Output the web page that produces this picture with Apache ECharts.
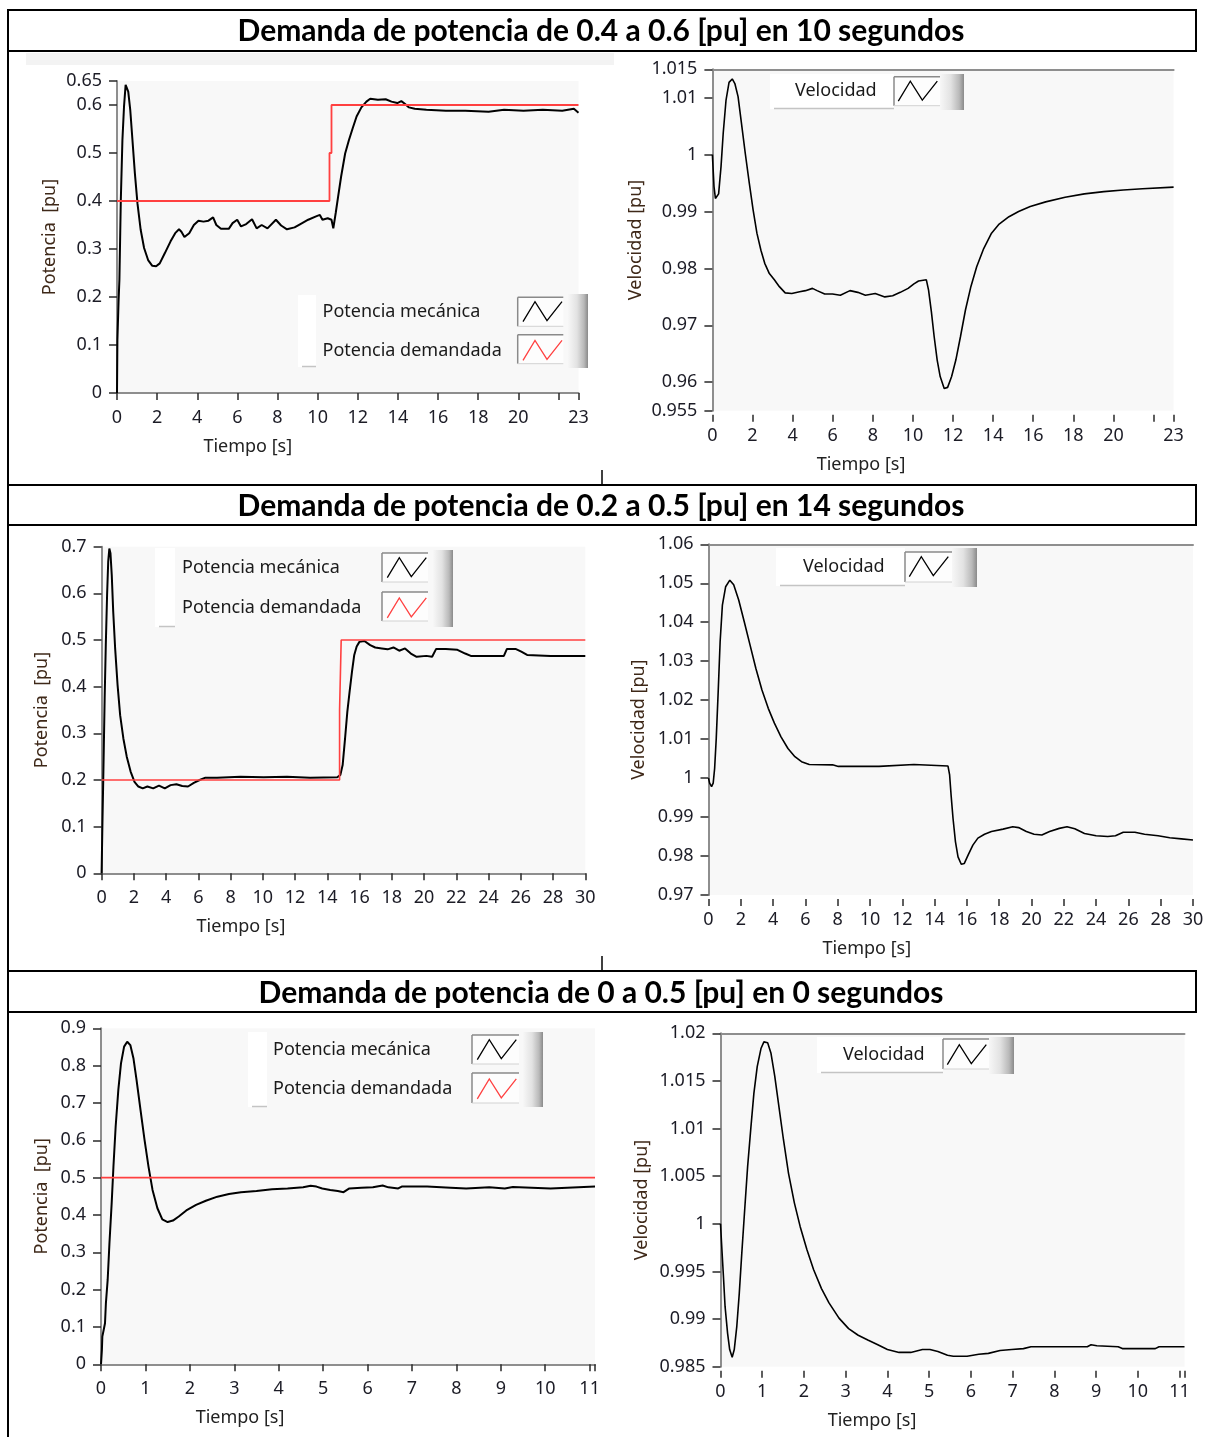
<!DOCTYPE html>
<html><head><meta charset="utf-8">
<script src="https://cdn.jsdelivr.net/npm/echarts@6/dist/echarts.min.js"></script>
<style>html,body{margin:0;padding:0;background:#fff}#c{width:1207px;height:1437px}</style>
</head><body><div id="c"></div><script>
// ---------- texts ----------
const titles = ['Demanda de potencia de 0.4 a 0.6 [pu] en 10 segundos','Demanda de potencia de 0.2 a 0.5 [pu] en 14 segundos','Demanda de potencia de 0 a 0.5 [pu] en 0 segundos'];
const xAxisName = 'Tiempo [s]';
const powerAxisName = 'Potencia  [pu]';
const speedAxisName = 'Velocidad [pu]';
const mechName = 'Potencia mecánica';
const demName = 'Potencia demandada';
const speedName = 'Velocidad';

// ---------- tick values ----------
const p1XTicks = [0,2,4,6,8,10,12,14,16,18,20,22,23];
const p1XLabels = [0,2,4,6,8,10,12,14,16,18,20,23];
const p1YTicks = [0,0.1,0.2,0.3,0.4,0.5,0.6,0.65];
const p2YTicks = [0.955,0.96,0.97,0.98,0.99,1,1.01,1.015];
const p3XTicks = [0,2,4,6,8,10,12,14,16,18,20,22,24,26,28,30];
const p3YTicks = [0,0.1,0.2,0.3,0.4,0.5,0.6,0.7];
const p4YTicks = [0.97,0.98,0.99,1,1.01,1.02,1.03,1.04,1.05,1.06];
const p5XTicks = [0,1,2,3,4,5,6,7,8,9,10,11,11.12];
const p5XLabels = [0,1,2,3,4,5,6,7,8,9,10,11];
const p5YTicks = [0,0.1,0.2,0.3,0.4,0.5,0.6,0.7,0.8,0.9];
const p6YTicks = [0.985,0.99,0.995,1,1.005,1.01,1.015,1.02];

// ---------- panel 1: 0.4 -> 0.6 pu, power ----------
const p1Time = [0,0.02,0.08,0.12,0.19,0.27,0.35,0.43,0.48,0.56,0.66,0.77,0.89,1.02,1.18,1.35,1.55,1.76,1.95,2.13,2.38,2.67,2.9,3.09,3.21,3.36,3.6,3.83,4.06,4.31,4.56,4.79,4.95,5.18,5.57,5.76,5.99,6.18,6.44,6.73,6.96,7.21,7.5,7.92,8.18,8.47,8.85,9.14,9.53,9.92,10.11,10.24,10.5,10.69,10.78,10.9,11.02,11.17,11.37,11.56,11.75,11.94,12.18,12.43,12.62,13.0,13.39,13.68,13.97,14.17,14.36,14.55,14.84,15.42,16.39,17.36,18.52,19.29,20.26,21.22,22.19,22.77,23];
const p1Mech = [0,0.111,0.194,0.236,0.402,0.527,0.597,0.642,0.645,0.628,0.59,0.527,0.458,0.395,0.34,0.302,0.277,0.265,0.264,0.27,0.291,0.316,0.333,0.341,0.336,0.325,0.333,0.35,0.359,0.357,0.359,0.366,0.35,0.342,0.342,0.354,0.361,0.347,0.352,0.362,0.343,0.35,0.343,0.361,0.349,0.341,0.345,0.352,0.361,0.368,0.371,0.361,0.364,0.361,0.343,0.375,0.409,0.451,0.499,0.527,0.552,0.576,0.595,0.607,0.613,0.611,0.612,0.607,0.604,0.608,0.602,0.595,0.592,0.59,0.588,0.588,0.586,0.59,0.588,0.59,0.588,0.592,0.584];
const p1DemTime = [0,10.59,10.59,10.69,10.69,23];
const p1Dem = [0.4,0.4,0.5,0.5,0.6,0.6];

// ---------- panel 2: 0.4 -> 0.6 pu, speed ----------
const p2Time = [0,0.08,0.15,0.23,0.31,0.43,0.54,0.68,0.83,0.99,1.12,1.28,1.45,1.64,1.84,2.03,2.22,2.42,2.61,2.84,3.09,3.34,3.63,3.96,4.35,4.64,4.99,5.22,5.6,5.99,6.38,6.86,7.25,7.63,8.12,8.6,8.99,9.37,9.76,10.05,10.28,10.67,10.78,10.92,11.06,11.21,11.36,11.56,11.73,11.93,12.14,12.37,12.62,12.89,13.18,13.53,13.92,14.3,14.79,15.27,15.85,16.62,17.59,18.55,19.52,20.49,21.45,23];
const p2Speed = [1.0,0.9944,0.9923,0.9922,0.9931,0.9979,1.0038,1.0096,1.0127,1.0133,1.0125,1.0102,1.0055,1.0002,0.995,0.9903,0.9862,0.9832,0.9809,0.9791,0.978,0.9768,0.9757,0.9756,0.9759,0.9761,0.9765,0.9761,0.9755,0.9755,0.9753,0.9761,0.9758,0.9753,0.9756,0.975,0.9752,0.9758,0.9765,0.9773,0.9778,0.978,0.9762,0.9724,0.968,0.9639,0.961,0.9589,0.9591,0.961,0.9639,0.968,0.9727,0.9768,0.9803,0.9835,0.9862,0.9878,0.9891,0.99,0.9909,0.9917,0.9925,0.9931,0.9935,0.9938,0.994,0.9943];

// ---------- panel 3: 0.2 -> 0.5 pu, power ----------
const p3Time = [0,0.05,0.1,0.14,0.19,0.26,0.34,0.41,0.48,0.55,0.63,0.72,0.84,0.99,1.15,1.35,1.56,1.8,2.04,2.28,2.55,2.84,3.2,3.56,3.92,4.28,4.64,5.0,5.36,5.72,6.08,6.44,7.16,8.61,10.05,11.5,12.93,14.62,14.81,14.95,15.1,15.24,15.38,15.53,15.67,15.82,15.99,16.3,16.66,16.97,17.38,17.74,18.1,18.46,18.82,19.18,19.54,20.14,20.5,20.75,21.35,22.07,22.55,22.9,23.99,24.95,25.14,25.67,26.03,26.39,27.84,30];
const p3Mech = [0,0.104,0.196,0.275,0.375,0.489,0.596,0.668,0.696,0.686,0.639,0.561,0.482,0.404,0.339,0.289,0.25,0.218,0.196,0.186,0.182,0.186,0.182,0.188,0.182,0.189,0.191,0.187,0.186,0.194,0.2,0.205,0.205,0.207,0.206,0.207,0.205,0.206,0.211,0.232,0.289,0.346,0.389,0.432,0.468,0.486,0.496,0.498,0.489,0.484,0.482,0.48,0.484,0.477,0.482,0.471,0.464,0.466,0.464,0.481,0.481,0.479,0.471,0.466,0.466,0.466,0.481,0.481,0.475,0.468,0.466,0.466];
const p3DemTime = [0,14.76,14.76,14.86,14.86,30];
const p3Dem = [0.2,0.2,0.35,0.35,0.5,0.5];

// ---------- panel 4: 0.2 -> 0.5 pu, speed ----------
const p4Time = [0,0.07,0.19,0.29,0.38,0.48,0.6,0.72,0.86,1.06,1.32,1.56,1.87,2.21,2.57,2.93,3.31,3.7,4.08,4.49,4.92,5.35,5.76,6.24,7.68,8.04,10.56,10.61,12.72,12.77,14.83,14.93,15.02,15.14,15.29,15.45,15.65,15.84,16.08,16.37,16.68,17.09,17.52,18.24,18.84,19.2,19.68,20.16,20.64,21.12,21.72,22.2,22.68,23.28,24.0,24.72,25.2,25.68,26.4,27.0,27.84,28.56,29.28,30];
const p4Speed = [1.0,0.9987,0.9978,0.9987,1.0025,1.0102,1.0222,1.035,1.0444,1.0491,1.0508,1.0496,1.0457,1.0402,1.0342,1.0282,1.0226,1.0179,1.0141,1.0106,1.0076,1.0055,1.0042,1.0035,1.0034,1.003,1.003,1.0035,1.0035,1.0031,1.0031,1.0008,0.9957,0.9897,0.9837,0.9798,0.9779,0.9781,0.9803,0.9828,0.9846,0.9856,0.9863,0.9869,0.9875,0.9873,0.9863,0.9856,0.9854,0.9863,0.9871,0.9875,0.987,0.9858,0.9852,0.985,0.9852,0.9861,0.9861,0.9856,0.9852,0.9847,0.9844,0.9841];

// ---------- panel 5: 0 -> 0.5 pu, power ----------
const p5Time = [0,0.02,0.03,0.06,0.09,0.11,0.15,0.19,0.24,0.28,0.33,0.39,0.45,0.52,0.59,0.66,0.73,0.8,0.89,0.98,1.07,1.16,1.27,1.38,1.5,1.62,1.75,1.92,2.14,2.36,2.62,2.88,3.15,3.5,3.85,4.2,4.55,4.72,4.85,4.98,5.16,5.33,5.46,5.59,5.86,6.12,6.34,6.47,6.69,6.77,7.34,7.87,8.22,8.74,9.09,9.27,10.12,10.16,11.12];
const p5Mech = [0,0.038,0.074,0.092,0.11,0.163,0.226,0.324,0.431,0.529,0.637,0.735,0.806,0.851,0.864,0.855,0.82,0.762,0.681,0.601,0.529,0.467,0.418,0.388,0.381,0.385,0.396,0.412,0.427,0.438,0.449,0.456,0.461,0.464,0.469,0.471,0.474,0.478,0.476,0.471,0.467,0.464,0.461,0.471,0.473,0.474,0.479,0.474,0.471,0.476,0.476,0.473,0.471,0.474,0.471,0.475,0.471,0.476,0.476];
const p5DemTime = [0,11.12];
const p5Dem = [0.5,0.5];

// ---------- panel 6: 0 -> 0.5 pu, speed ----------
const p6Time = [0,0.03,0.07,0.11,0.17,0.22,0.28,0.33,0.39,0.45,0.51,0.58,0.65,0.73,0.8,0.88,0.97,1.04,1.13,1.21,1.3,1.4,1.51,1.63,1.77,1.91,2.07,2.23,2.42,2.6,2.84,3.07,3.3,3.53,3.77,4.0,4.28,4.56,4.84,5.02,5.21,5.44,5.58,5.91,6.19,6.42,6.7,6.98,7.26,7.44,8.28,8.79,8.88,9.02,9.53,9.63,10.42,10.51,11.12];
const p6Speed = [1.0,0.9976,0.9945,0.9913,0.9885,0.9868,0.986,0.9868,0.9892,0.9927,0.9969,1.0015,1.006,1.0102,1.0137,1.0165,1.0184,1.0191,1.019,1.0179,1.0155,1.0123,1.0088,1.0053,1.0022,0.9997,0.9973,0.9952,0.9932,0.9917,0.9901,0.989,0.9883,0.9878,0.9873,0.9868,0.9865,0.9865,0.9868,0.9868,0.9866,0.9862,0.9861,0.9861,0.9863,0.9864,0.9867,0.9868,0.9869,0.9871,0.9871,0.9871,0.9873,0.9872,0.9871,0.9869,0.9869,0.9871,0.9871];

// ---------- styling / layout ----------
const FONT = '"Noto Sans", sans-serif';
const TITLE_FONT = 'bold 30px Lato, "Noto Sans", sans-serif';
const BLACK = '#000000';
const RED = '#ff4040';
const PLOT_BG = '#f8f8f8';
const FRAME = '#8e8e8e';
const LABEL_COLOR = '#1c1c26';
const YNAME_COLOR = '#3e2818';
const ZIGZAG = 'path://M0,20L12,0L24,19L39,0';

function zip(a, b) { const n = Math.min(a.length, b.length); const r = []; for (let i = 0; i < n; i++) r.push([a[i], b[i]]); return r; }
function fmt(v) { return String(+(+v).toFixed(4)); }

const panels = [
  {grid:[117,81,461.5,312], xMax:23, yMin:0, yMax:0.65, xTicks:p1XTicks, xLabels:p1XLabels, yTicks:p1YTicks, yName:powerAxisName, xNamePad:200, yNameGap:54,
   lines:[{name:mechName, d:zip(p1Time,p1Mech), c:BLACK, w:2},{name:demName, d:zip(p1DemTime,p1Dem), c:RED, w:1.8}],
   legend:{left:322.5, top:301, W:195.5, gap:17.5}},
  {grid:[712.4,69.3,461.2,341.4], xMax:23, yMin:0.955, yMax:1.015, xTicks:p1XTicks, xLabels:p1XLabels, yTicks:p2YTicks, yName:speedAxisName, xNamePad:164, yNameGap:64,
   lines:[{name:speedName, d:zip(p2Time,p2Speed), c:BLACK, w:1.6}],
   legend:{left:795, top:80.5, W:98.3, gap:10}},
  {grid:[101.6,546.7,483.7,326.6], xMax:30, yMin:0, yMax:0.7, xTicks:p3XTicks, xLabels:p3XTicks, yTicks:p3YTicks, yName:powerAxisName, xNamePad:205, yNameGap:47,
   lines:[{name:mechName, d:zip(p3Time,p3Mech), c:BLACK, w:2},{name:demName, d:zip(p3DemTime,p3Dem), c:RED, w:1.6}],
   legend:{left:182, top:557, W:200.3, gap:19}},
  {grid:[708.5,544.3,484.5,350.7], xMax:30, yMin:0.97, yMax:1.06, xTicks:p3XTicks, xLabels:p3XTicks, yTicks:p4YTicks, yName:speedAxisName, xNamePad:168, yNameGap:57,
   lines:[{name:speedName, d:zip(p4Time,p4Speed), c:BLACK, w:1.6}],
   legend:{left:803, top:556, W:101.3, gap:10}},
  {grid:[101,1028.3,494,336], xMax:11.12, yMin:0, yMax:0.9, xTicks:p5XTicks, xLabels:p5XLabels, yTicks:p5YTicks, yName:powerAxisName, xNamePad:216, yNameGap:46,
   lines:[{name:mechName, d:zip(p5Time,p5Mech), c:BLACK, w:2},{name:demName, d:zip(p5DemTime,p5Dem), c:RED, w:1.6}],
   legend:{left:273, top:1039, W:199.3, gap:18}},
  {grid:[720.5,1033.3,464,333.4], xMax:11.12, yMin:0.985, yMax:1.02, xTicks:p5XTicks, xLabels:p5XLabels, yTicks:p6YTicks, yName:speedAxisName, xNamePad:161, yNameGap:66,
   lines:[{name:speedName, d:zip(p6Time,p6Speed), c:BLACK, w:1.6}],
   legend:{left:843, top:1044, W:99.3, gap:10}}
];

const grid = [], xAxis = [], yAxis = [], series = [], legend = [];
panels.forEach((p, i) => {
  grid.push({left:p.grid[0], top:p.grid[1], width:p.grid[2], height:p.grid[3], show:true, backgroundColor:PLOT_BG, borderWidth:0, containLabel:false});
  const xi = xAxis.length, yi = yAxis.length;
  xAxis.push({gridIndex:i, type:'value', min:0, max:p.xMax, position:'bottom', offset:4,
    axisLine:{show:false}, splitLine:{show:false},
    axisTick:{show:true, length:7, customValues:p.xTicks, lineStyle:{color:'#2a2a2a', width:1.5}},
    axisLabel:{show:true, customValues:p.xLabels, formatter:fmt, margin:12, fontFamily:FONT, fontSize:18, color:LABEL_COLOR},
    name:xAxisName, nameLocation:'middle', nameGap:41,
    nameTextStyle:{fontFamily:FONT, fontSize:18, color:'#222', padding:[0,p.xNamePad,0,0]}});
  xAxis.push({gridIndex:i, type:'value', min:0, max:p.xMax, position:'top',
    axisLine:{show:true, lineStyle:{color:FRAME, width:2}}, axisTick:{show:false}, axisLabel:{show:false}, splitLine:{show:false}});
  yAxis.push({gridIndex:i, type:'value', min:p.yMin, max:p.yMax, position:'left', offset:4,
    axisLine:{show:false}, splitLine:{show:false},
    axisTick:{show:true, length:8, customValues:p.yTicks, lineStyle:{color:'#2a2a2a', width:1.5}},
    axisLabel:{show:true, customValues:p.yTicks, formatter:fmt, margin:11, fontFamily:FONT, fontSize:18, color:LABEL_COLOR},
    name:p.yName, nameLocation:'middle', nameGap:p.yNameGap, nameRotate:90,
    nameTextStyle:{fontFamily:FONT, fontSize:18, color:YNAME_COLOR}});
  yAxis.push({gridIndex:i, type:'value', min:p.yMin, max:p.yMax, position:'left',
    axisLine:{show:true, lineStyle:{color:FRAME, width:2}}, axisTick:{show:false}, axisLabel:{show:false}, splitLine:{show:false}});
  p.lines.forEach(l => {
    series.push({type:'line', name:l.name, xAxisIndex:xi, yAxisIndex:yi, data:l.d, symbol:'none', showSymbol:false,
      lineStyle:{color:l.c, width:l.w}, itemStyle:{color:l.c}, z:3, animation:false});
  });
  legend.push({show:true, orient:'vertical', align:'right', left:p.legend.left, top:p.legend.top, padding:0,
    itemWidth:39, itemHeight:20, itemGap:p.legend.gap, icon:ZIGZAG, selectedMode:false, z:20, zlevel:1,
    data:p.lines.map(l => ({name:l.name, icon:ZIGZAG, itemStyle:{color:'rgba(0,0,0,0)', borderColor:l.c, borderWidth:1.3}})),
    formatter:'{a|{name}}',
    textStyle:{rich:{a:{width:p.legend.W, align:'left', fontFamily:FONT, fontSize:18, color:'#1a1a1a', lineHeight:20, height:20}}}});
});

// ---------- decorations (table borders, titles, legend frames) ----------
const G = [];
function rect(x,y,w,h,style,z){G.push({type:'rect', shape:{x:x,y:y,width:w,height:h}, style:style, z:z||5, silent:true});}
function line(x1,y1,x2,y2,stroke,lw,z){G.push({type:'line', shape:{x1:x1,y1:y1,x2:x2,y2:y2}, style:{stroke:stroke,lineWidth:lw}, z:z||5, silent:true});}
function bevel(x,y,w,h){rect(x,y,w,h,{fill:{type:'linear',x:0,y:0,x2:1,y2:0,colorStops:[{offset:0,color:'#f7f7f7'},{offset:0.45,color:'#e2e2e2'},{offset:0.8,color:'#b9b9b9'},{offset:1,color:'#8a8a8a'}]}},6);}
function frame(x,y,w,h){rect(x,y,w,h,{fill:'#fdfdfd'},6); line(x,y,x+w,y,'#8a8a8a',1.5,7); line(x,y,x,y+h,'#8a8a8a',1.5,7); line(x,y+h,x+w,y+h,'#d2d2d2',1,7);}
function whiteStrip(x,y,w,h){rect(x,y,w,h,{fill:'#ffffff'},6); line(x+4,y+h-0.5,x+w,y+h-0.5,'#c4c4c4',1.5,7);}

// table
line(8,9,8,1437,'#000',2,8);
[[10,41],[485,40],[971,41]].forEach(r => rect(8,r[0],1188,r[1],{fill:'none', stroke:'#000', lineWidth:2},8));
line(602,470,602,485,'#000',1.5,8);
line(602,956,602,971,'#000',1.5,8);
rect(26,53,588,12,{fill:'#f3f3f3'},1);
[[31.5,0],[506.5,1],[993,2]].forEach(t => G.push({type:'text', z:9, silent:true,
  style:{text:titles[t[1]], x:601, y:t[0], font:TITLE_FONT, textAlign:'center', textVerticalAlign:'middle', fill:'#000'}}));

// power legends
whiteStrip(298,295,18,72); frame(517.7,297.3,45.6,29); frame(517.7,334.7,45.6,29); bevel(568,294,20,74);
whiteStrip(155,548,20,79); frame(382,553,46,29); frame(382,592,46,29); bevel(433,550,20,77);
whiteStrip(248,1032,19,75); frame(472,1035,47,29); frame(472,1073,47,30); bevel(523,1032,20,75);
// speed legends
whiteStrip(770,74,124,35); frame(894,76.7,46,29); bevel(940,74,24,36);
whiteStrip(776,548,129,38); frame(905,552,47,30); bevel(952,548,25,39);
whiteStrip(817,1037,126,36); frame(943,1039,46,30); bevel(989,1037,25,37);

const chart = echarts.init(document.getElementById('c'), null, {renderer:'canvas'});
chart.setOption({animation:false, backgroundColor:'#ffffff', grid:grid, xAxis:xAxis, yAxis:yAxis, series:series, legend:legend, graphic:{elements:G}});
</script></body></html>
